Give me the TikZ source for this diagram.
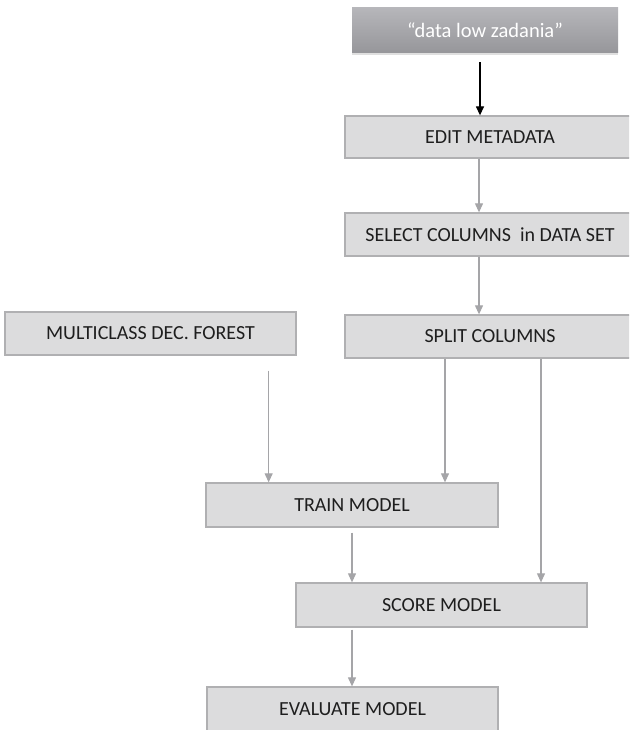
\documentclass[tikz,border=0pt]{standalone}
\usepackage{fontspec}
\setmainfont{Carlito}
\usetikzlibrary{arrows.meta,shadows}
\definecolor{boxfill}{RGB}{220,220,221}
\definecolor{boxline}{RGB}{176,176,178}
\definecolor{arrgray}{RGB}{165,165,168}
\definecolor{txt}{RGB}{30,30,30}
\definecolor{toptop}{RGB}{182,182,186}
\definecolor{topbot}{RGB}{150,150,154}
\tikzset{
  stepbox/.style={draw=boxline, line width=1.3pt, fill=boxfill, text=txt,
    font=\fontsize{20}{24}\selectfont, inner sep=0pt, anchor=center},
  topbox/.style={top color=toptop, bottom color=topbot, draw=none, text=white,
    font=\fontsize{20.5}{24}\selectfont, inner sep=0pt,
    drop shadow={opacity=0.25, shadow xshift=0pt, shadow yshift=-2pt}},
  garrow/.style={draw=arrgray, line width=1.1pt,
    -{Triangle[width=8pt,length=9pt]}, arrgray},
  barrow/.style={draw=black, line width=1.3pt,
    -{Triangle[width=8pt,length=9pt]}}
}
\begin{document}
\begin{tikzpicture}[x=1pt,y=-1pt]
\useasboundingbox (0,0) rectangle (629,730);
\clip (0,0) rectangle (629,730);
\fill[white] (0,0) rectangle (629,730);

\node[topbox, minimum width=266pt, minimum height=45pt] (top) at (485,30.5) {“data low zadania”};
\node[stepbox, minimum width=290pt, minimum height=42pt] (edit) at (490,137) {EDIT METADATA};
\node[stepbox, minimum width=290pt, minimum height=43pt] (select) at (490,234.5) {SELECT COLUMNS\ \ in DATA SET};
\node[stepbox, minimum width=290pt, minimum height=43pt] (split) at (490,336.5) {SPLIT COLUMNS};
\node[stepbox, minimum width=291pt, minimum height=43pt] (multi) at (150.5,333.5) {MULTICLASS DEC. FOREST};
\node[stepbox, minimum width=292pt, minimum height=44pt] (train) at (352,505) {TRAIN MODEL};
\node[stepbox, minimum width=291pt, minimum height=44pt] (score) at (441.5,605) {SCORE MODEL};
\node[stepbox, minimum width=291pt, minimum height=44pt] (eval) at (352.5,709) {EVALUATE MODEL};

\draw[barrow] ([xshift=-5pt,yshift=-9pt]top.south) -- ([xshift=-5pt]top.south |- edit.north);
\draw[garrow] ([xshift=-11pt]edit.south) -- ([xshift=-11pt]edit.south |- select.north);
\draw[garrow] ([xshift=-11pt]select.south) -- ([xshift=-11pt]select.south |- split.north);
\draw[garrow] ([xshift=-28pt,yshift=-15pt]multi.south east) -- ([xshift=-28pt]multi.south east |- train.north);
\draw[garrow] ([xshift=-45pt]split.south) -- ([xshift=-45pt]split.south |- train.north);
\draw[garrow] ([xshift=51pt]split.south) -- ([xshift=51pt]split.south |- score.north);
\draw[garrow] ([yshift=-5pt]train.south) -- (train.south |- score.north);
\draw[garrow] ([xshift=-89.5pt,yshift=-2pt]score.south) -- ([xshift=-89.5pt]score.south |- eval.north);
\end{tikzpicture}
\end{document}
